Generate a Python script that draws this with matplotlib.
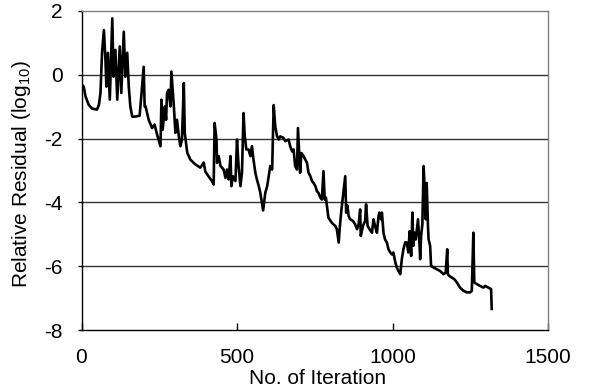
import matplotlib
matplotlib.use("Agg")
import matplotlib.pyplot as plt

iterations = [0, 7, 13, 23, 34, 50, 56, 61, 66, 72, 77, 80, 85, 91, 99, 103, 109, 115, 123, 128,
              136, 141, 147, 152, 157, 163, 173, 187, 195, 200, 203, 206, 216, 227, 235, 243, 254, 257, 261, 268,
              272, 275, 280, 286, 289, 293, 297, 302, 307, 313, 318, 323, 329, 332, 340, 350, 366, 382, 393, 398,
              409, 420, 425, 428, 434, 436, 441, 447, 457, 463, 468, 473, 479, 482, 487, 495, 500, 505, 511, 516,
              521, 525, 530, 537, 543, 548, 553, 559, 564, 570, 575, 580, 584, 591, 597, 602, 607, 613, 618, 623,
              629, 634, 639, 650, 655, 666, 671, 677, 682, 687, 693, 696, 700, 703, 707, 714, 725, 730, 736, 741,
              746, 752, 757, 762, 768, 773, 778, 782, 786, 789, 794, 805, 816, 821, 827, 830, 835, 843, 848, 851,
              855, 859, 864, 873, 880, 886, 891, 896, 898, 905, 912, 915, 920, 926, 934, 939, 944, 950, 955, 958,
              963, 966, 971, 976, 982, 987, 993, 998, 1003, 1009, 1014, 1019, 1025, 1030, 1035, 1041, 1046, 1051, 1055, 1060,
              1064, 1067, 1071, 1075, 1082, 1086, 1089, 1092, 1096, 1100, 1103, 1107, 1110, 1114, 1116, 1121, 1124, 1132, 1143, 1153,
              1164, 1171, 1176, 1178, 1182, 1191, 1199, 1207, 1217, 1228, 1239, 1250, 1255, 1260, 1263, 1271, 1282, 1292, 1298, 1308,
              1317, 1319]
residual_log10 = [-0.30, -0.37, -0.68, -0.94, -1.06, -1.09, -0.94, -0.57, 0.69, 1.40, 0.47, -0.37, 0.69, -0.78, 1.77, -0.06, 0.78, -0.78, 0.89, -0.57,
                  1.35, -0.06, 0.69, -0.37, -0.99, -1.31, -1.31, -1.28, -0.36, 0.25, -0.99, -0.99, -1.41, -1.67, -1.56, -1.87, -2.24, -0.78, -1.72, -0.99,
                  -1.41, -0.57, -0.47, -0.99, 0.10, -0.47, -0.99, -1.82, -1.41, -1.93, -2.24, -2.03, -0.26, -1.82, -2.44, -2.66, -2.81, -2.91, -2.75, -3.03,
                  -3.19, -3.34, -3.44, -1.51, -2.03, -2.76, -2.55, -2.86, -2.97, -3.23, -2.97, -3.28, -2.55, -3.49, -3.18, -3.33, -2.03, -2.86, -3.49, -3.07,
                  -1.20, -1.93, -2.34, -2.34, -2.55, -2.24, -2.66, -3.07, -3.28, -3.49, -3.70, -4.00, -4.25, -3.70, -3.49, -3.18, -2.86, -2.97, -0.95, -1.62,
                  -1.93, -2.03, -1.93, -1.98, -2.08, -2.03, -2.24, -2.40, -2.34, -2.86, -2.97, -1.67, -2.45, -3.07, -2.45, -2.55, -2.76, -3.07, -3.18, -3.33,
                  -3.39, -3.49, -3.65, -3.70, -3.85, -3.91, -3.02, -3.91, -3.85, -4.10, -4.48, -4.64, -4.74, -4.84, -5.26, -4.84, -4.30, -3.60, -3.18, -4.32,
                  -4.10, -4.43, -4.53, -4.58, -4.69, -4.84, -4.69, -4.22, -5.05, -4.74, -4.58, -4.06, -4.74, -4.84, -4.95, -4.53, -4.74, -4.95, -4.43, -4.32,
                  -4.53, -4.32, -4.95, -5.16, -5.26, -5.47, -5.57, -5.63, -5.57, -5.88, -6.04, -6.15, -6.25, -5.78, -5.47, -5.25, -5.26, -5.57, -4.90, -5.68,
                  -4.32, -5.36, -4.95, -5.16, -4.53, -5.16, -5.78, -5.05, -4.69, -2.86, -3.49, -4.53, -3.39, -4.74, -5.16, -5.36, -5.99, -6.04, -6.10, -6.15,
                  -6.25, -6.20, -5.47, -6.25, -6.30, -6.36, -6.41, -6.51, -6.67, -6.77, -6.82, -6.82, -6.77, -4.95, -6.51, -6.56, -6.62, -6.67, -6.62, -6.67,
                  -6.72, -7.34]

x_ticks = [0, 500, 1000, 1500]
y_ticks = [2, 0, -2, -4, -6, -8]
y_tick_labels = ["2", "0", "-2", "-4", "-6", "-8"]

plt.rcParams['font.family'] = ['Liberation Sans', 'DejaVu Sans']

fig = plt.figure(figsize=(5.89, 3.89), dpi=100)
ax = fig.add_axes([81.5/589, 1 - 330/389, (548-81.5)/589, (330-11)/389])

for g in [0, -2, -4, -6]:
    ax.axhline(g, color='#333333', lw=1.0, zorder=1)

ax.plot(iterations, residual_log10, color='black', lw=1.9, zorder=3)

ax.set_xlim(0, 1500)
ax.set_ylim(-8, 2)
ax.set_xticks(x_ticks)
ax.set_xticklabels([str(t) for t in x_ticks])
ax.set_yticks(y_ticks)
ax.set_yticklabels(y_tick_labels)

ax.tick_params(axis='x', direction='in', length=5, width=1, pad=13, labelsize=15)
ax.tick_params(axis='y', direction='out', length=3, width=1, pad=10.5, labelsize=15)

for s in ['left', 'bottom']:
    ax.spines[s].set_color('black')
    ax.spines[s].set_linewidth(1.0)
for s in ['top', 'right']:
    ax.spines[s].set_color('#808080')
    ax.spines[s].set_linewidth(1.0)

ax.set_xlabel('No. of Iteration', fontsize=15)
ax.xaxis.set_label_coords(0.507, -0.121)
ax.set_ylabel(r'Relative Residual (log$_{\mathregular{10}}$)', fontsize=15)
ax.yaxis.set_label_coords(-0.104, 0.49)

fig.savefig('out.png', dpi=100)
